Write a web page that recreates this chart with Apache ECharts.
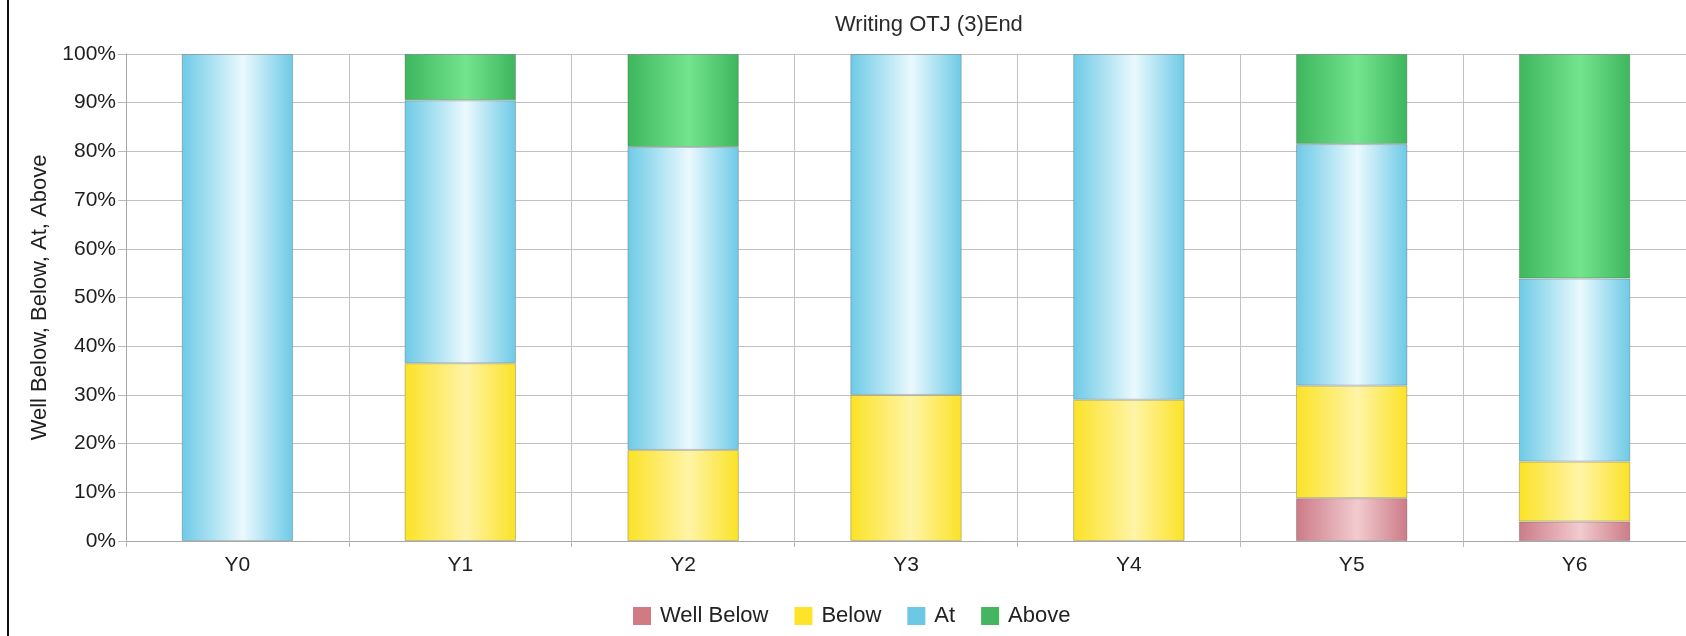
<!DOCTYPE html>
<html>
<head>
<meta charset="utf-8">
<script src="https://cdn.jsdelivr.net/npm/echarts@6/dist/echarts.min.js"></script>
<style>
html,body{margin:0;padding:0;background:#fff;}
#edge{position:absolute;left:7px;top:0;width:2px;height:636px;background:#111;}
#chart{position:absolute;left:0;top:0;width:1686px;height:636px;}
</style>
</head>
<body>
<div id="chart"></div>
<div id="edge"></div>
<script>
const categories = ['Y0', 'Y1', 'Y2', 'Y3', 'Y4', 'Y5', 'Y6'];
const wellBelow = [0, 0, 0, 0, 0, 8.8, 4.0];
const below = [0, 36.5, 18.7, 30, 29, 23.1, 12.3];
const at = [100, 54, 62.2, 70, 71, 49.6, 37.6];
const above = [0, 9.5, 19.1, 0, 0, 18.5, 46.1];
const yTicks = [0, 10, 20, 30, 40, 50, 60, 70, 80, 90, 100];

const FONT = '"Liberation Sans", Arial, sans-serif';
function grad(edge, mid) {
  return new echarts.graphic.LinearGradient(0, 0, 1, 0, [
    { offset: 0, color: edge },
    { offset: 0.55, color: mid },
    { offset: 1, color: edge }
  ]);
}
function mk(name, data, edge, mid, legendColor) {
  return {
    name: name,
    type: 'bar',
    stack: 'total',
    barWidth: '50%',
    data: data.map(v => (v === 0 ? null : v)),
    itemStyle: { color: grad(edge, mid), borderColor: 'rgba(90,90,90,0.35)', borderWidth: 1 },
    emphasis: { disabled: true },
    legendColor: legendColor
  };
}
const series = [
  mk('Well Below', wellBelow, '#cc7b87', '#f2cbcf', '#d17a84'),
  mk('Below', below, '#fbe226', '#fff4a6', '#fde42b'),
  mk('At', at, '#6dcae6', '#eaf9fe', '#6dc8e3'),
  mk('Above', above, '#3db65d', '#74e48e', '#45b561')
];

const chart = echarts.init(document.getElementById('chart'), null, { renderer: 'canvas' });
chart.setOption({
  animation: false,
  backgroundColor: 'transparent',
  title: {
    text: 'Writing OTJ (3)End',
    left: 830,
    top: 9,
    textStyle: { fontFamily: FONT, fontSize: 22, fontWeight: 'normal', color: '#2a2a2a' }
  },
  legend: {
    left: 628,
    top: 600,
    itemWidth: 18,
    itemHeight: 18,
    itemGap: 26,
    icon: 'rect',
    textStyle: { fontFamily: FONT, fontSize: 22, color: '#222', padding: [0, 0, 0, 4] },
    data: series.map(s => ({ name: s.name, itemStyle: { color: s.legendColor, borderWidth: 0 } }))
  },
  grid: { left: 126, right: 0, top: 54, bottom: 95, containLabel: false },
  xAxis: {
    type: 'category',
    data: categories,
    boundaryGap: true,
    axisLine: { show: true, lineStyle: { color: '#a8a8a8' } },
    axisTick: { show: true, length: 6, lineStyle: { color: '#b8b8b8' } },
    splitLine: { show: true, lineStyle: { color: '#c2c2c2' } },
    axisLabel: { fontFamily: FONT, fontSize: 21, color: '#1e1e1e', margin: 14 }
  },
  yAxis: {
    type: 'value',
    min: 0,
    max: 100,
    interval: 10,
    name: 'Well Below, Below, At, Above',
    nameLocation: 'middle',
    nameGap: 75,
    nameTextStyle: { fontFamily: FONT, fontSize: 22, color: '#1e1e1e' },
    axisLine: { show: true, lineStyle: { color: '#a8a8a8' } },
    axisTick: { show: true, length: 8, lineStyle: { color: '#b8b8b8' } },
    splitLine: { show: true, lineStyle: { color: '#c2c2c2' } },
    axisLabel: {
      fontFamily: FONT, fontSize: 21, color: '#1e1e1e', margin: 10,
      formatter: v => (yTicks.includes(v) ? v + '%' : '')
    }
  },
  series: series.map(s => { const o = Object.assign({}, s); delete o.legendColor; return o; })
});
</script>
</body>
</html>
